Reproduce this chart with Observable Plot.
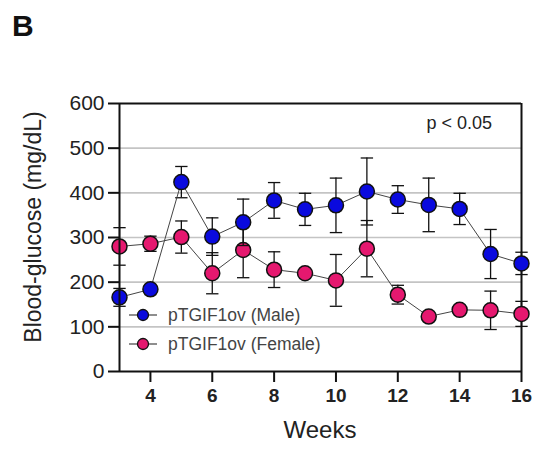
<!DOCTYPE html>
<html>
<head>
<meta charset="utf-8">
<script src="https://cdn.jsdelivr.net/npm/d3@7"></script>
<script src="https://cdn.jsdelivr.net/npm/@observablehq/plot@0.6"></script>
<style>
  html, body { margin: 0; padding: 0; background: #fff; }
  #chart svg { display: block; }
</style>
</head>
<body>
<div id="chart"></div>
<script>
const weeks = [3, 4, 5, 6, 7, 8, 9, 10, 11, 12, 13, 14, 15, 16];
const maleMean = [166, 184, 424, 302, 334, 383, 363, 372, 403, 385, 373, 364, 263, 242];
const maleErr = [20, 0, 35, 42, 52, 40, 36, 61, 75, 31, 60, 35, 55, 25];
const femaleMean = [280, 286, 301, 220, 272, 228, 220, 204, 275, 172, 123, 138, 137, 129];
const femaleErr = [42, 17, 36, 46, 62, 40, 0, 58, 63, 21, 0, 0, 43, 28];
const seriesNames = ["pTGIF1ov (Male)", "pTGIF1ov (Female)"];
const seriesColors = ["#0a0ade", "#e5186f"];
const xTicks = [4, 6, 8, 10, 12, 14, 16];
const yTicks = [0, 100, 200, 300, 400, 500, 600];
const gridTicks = [100, 200, 300, 400, 500];
const yLabel = "Blood-glucose (mg/dL)";
const xLabel = "Weeks";
const panelLabel = "B";
const pLabel = "p < 0.05";

const male = weeks.map((w, i) => ({w, v: maleMean[i], e: maleErr[i]}));
const female = weeks.map((w, i) => ({w, v: femaleMean[i], e: femaleErr[i]}));
const font = "'Liberation Sans', Arial, sans-serif";
const capHalf = 0.2;

function seriesMarks(data, color) {
  return [
    Plot.ruleX(data, {x: "w", y1: d => d.v - d.e, y2: d => d.v + d.e, stroke: "#111", strokeWidth: 1.3}),
    Plot.link(data, {x1: d => d.w - capHalf, x2: d => d.w + capHalf, y1: d => d.v + d.e, y2: d => d.v + d.e, stroke: "#111", strokeWidth: 1.3}),
    Plot.link(data, {x1: d => d.w - capHalf, x2: d => d.w + capHalf, y1: d => d.v - d.e, y2: d => d.v - d.e, stroke: "#111", strokeWidth: 1.3}),
    Plot.line(data, {x: "w", y: "v", stroke: "#444", strokeWidth: 1}),
    Plot.dot(data, {x: "w", y: "v", r: 7.5, fill: color, stroke: "#111", strokeWidth: 1.5})
  ];
}

// Legend and free-standing labels, positioned relative to the plot frame
function annotations(index, scales, values, dims) {
  const g = d3.create("svg:g").attr("font-family", font);
  const left = dims.marginLeft;
  const right = dims.width - dims.marginRight;
  const top = dims.marginTop;
  const bottom = dims.height - dims.marginBottom;
  const x0 = left + 24;
  const rows = [bottom - 56, bottom - 27];
  seriesNames.forEach((name, i) => {
    const y = rows[i];
    g.append("line").attr("x1", x0 - 14).attr("x2", x0 + 14).attr("y1", y).attr("y2", y)
      .attr("stroke", "#444").attr("stroke-width", 1.2);
    g.append("circle").attr("cx", x0).attr("cy", y).attr("r", 5.5)
      .attr("fill", seriesColors[i]).attr("stroke", "#111").attr("stroke-width", 1.3);
    g.append("text").attr("x", x0 + 25).attr("y", y).attr("dy", "0.35em")
      .attr("text-anchor", "start").attr("font-size", 17.5).attr("fill", "#444").text(name);
  });
  g.append("text").attr("x", right - 29).attr("y", top + 20).attr("dy", "0.35em")
    .attr("text-anchor", "end").attr("font-size", 18).attr("fill", "#222").text(pLabel);
  g.append("text").attr("x", (left + right) / 2).attr("y", bottom + 59).attr("dy", "0.35em")
    .attr("text-anchor", "middle").attr("font-size", 24).attr("fill", "#222").text(xLabel);
  g.append("text").attr("transform", `translate(${left - 86},${(top + bottom) / 2 - 10}) rotate(-90)`)
    .attr("dy", "0.35em").attr("text-anchor", "middle").attr("font-size", 23).attr("fill", "#222").text(yLabel);
  g.append("text").attr("x", 12).attr("y", 36)
    .attr("text-anchor", "start").attr("font-size", 30).attr("font-weight", "bold").attr("fill", "#111").text(panelLabel);
  return g.node();
}

const plot = Plot.plot({
  width: 542,
  height: 449,
  marginLeft: 119,
  marginRight: 21,
  marginTop: 103,
  marginBottom: 78,
  style: {fontFamily: font, background: "#fff", color: "#222"},
  x: {domain: [3, 16]},
  y: {domain: [0, 600]},
  marks: [
    Plot.gridY(gridTicks, {stroke: "#c4c4c4", strokeOpacity: 1, strokeWidth: 1.6}),
    Plot.ruleY([600], {stroke: "#111", strokeWidth: 2}),
    Plot.ruleX([16], {stroke: "#111", strokeWidth: 2}),
    Plot.axisY({ticks: yTicks, tickSize: 11, tickPadding: 4, fontSize: 21, label: null, stroke: "#111", strokeWidth: 2, fill: "#222"}),
    Plot.axisX({ticks: xTicks, tickSize: 11, tickPadding: 6, fontSize: 19, fontWeight: "bold", label: null, stroke: "#111", strokeWidth: 2, fill: "#222"}),
    ...seriesMarks(female, seriesColors[1]),
    ...seriesMarks(male, seriesColors[0]),
    Plot.ruleX([3], {stroke: "#111", strokeWidth: 2}),
    Plot.ruleY([0], {stroke: "#111", strokeWidth: 2}),
    annotations
  ]
});
document.getElementById("chart").append(plot);
</script>
</body>
</html>
